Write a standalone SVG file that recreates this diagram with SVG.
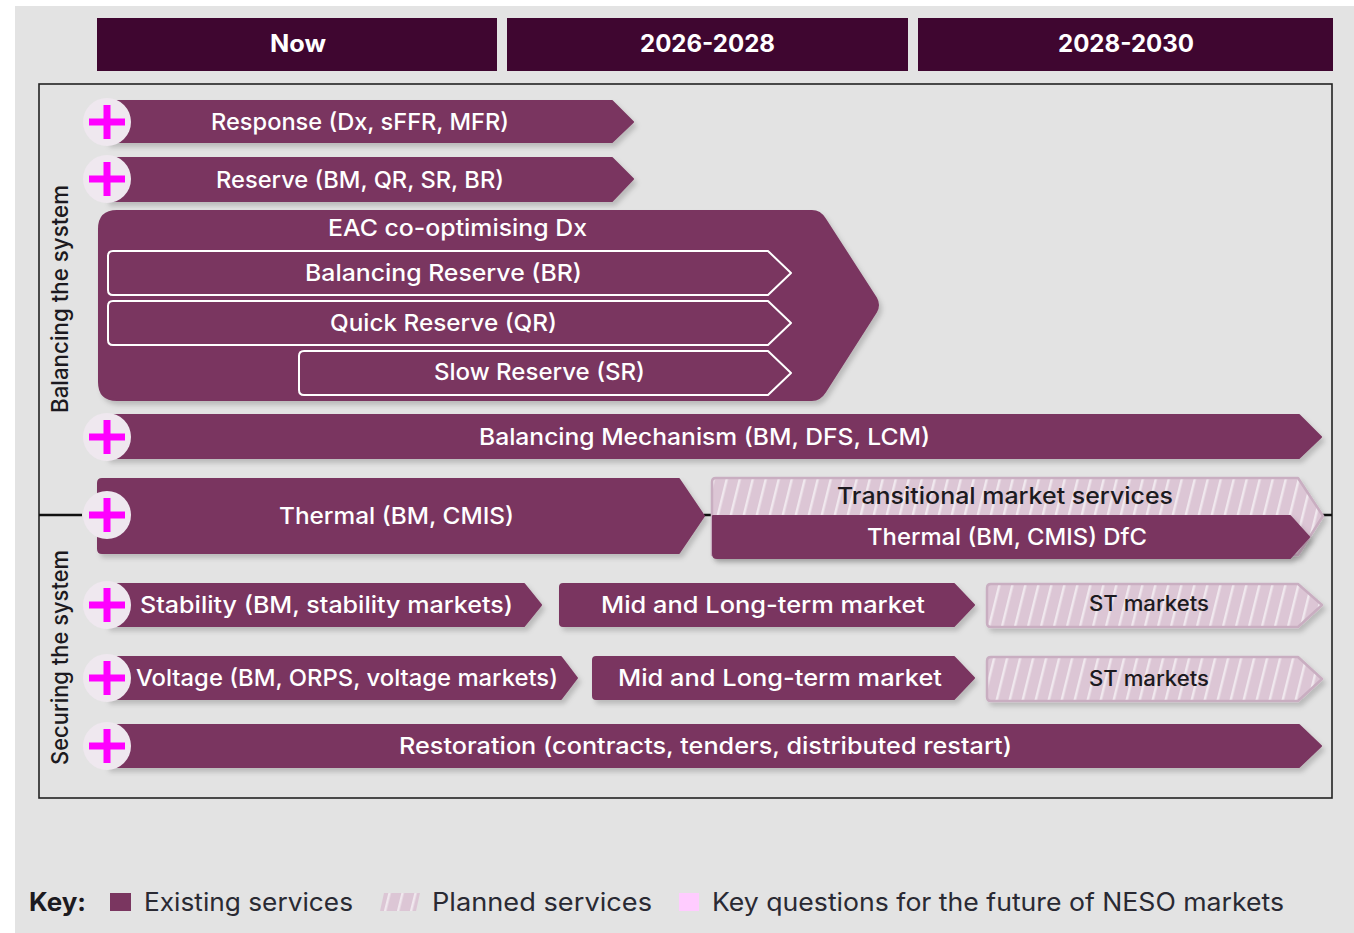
<svg xmlns="http://www.w3.org/2000/svg" width="1354" height="933" viewBox="0 0 1354 933">
<style>
text{font-family:"Inter","Liberation Sans",sans-serif;font-size:23px;font-weight:500}
.w{fill:#fff}.d{fill:#1c1a20}
.h{font-weight:700;font-size:24px;fill:#fff}
.side{fill:#1c1a20;font-size:23px}
.key{fill:#2a2a33;font-weight:400;font-size:25px}
.bar{fill:#7a3660;stroke:#7a3660;stroke-width:2;stroke-linejoin:round;filter:url(#sh)}
.plan{fill:url(#hatch);stroke:#c9aec1;stroke-width:2.5;stroke-linejoin:round;filter:url(#sh)}
.inner{fill:#7a3660;stroke:#fff;stroke-width:2;stroke-linejoin:round}
.hd{fill:#3f0630}
.circ{fill:#efe8ef}
.plus{fill:#ff00ff}
</style>
<defs>
<filter id="sh" x="-5%" y="-20%" width="110%" height="145%"><feDropShadow dx="3" dy="4" stdDeviation="2.5" flood-color="#000" flood-opacity="0.18"/></filter>
<pattern id="hatch" width="13" height="40" patternUnits="userSpaceOnUse" patternTransform="skewX(-14)"><rect width="13" height="40" fill="#dcc6d5"/><rect x="0" width="2.5" height="40" fill="#f0e8ee"/></pattern>
<g id="plusmark"><circle class="circ" r="24"/><rect class="plus" x="-18" y="-3.5" width="36" height="7"/><rect class="plus" x="-3.5" y="-17" width="7" height="34"/></g>
</defs>
<rect width="1354" height="933" fill="#fff"/>
<rect x="15" y="6" width="1339" height="927" fill="#e3e3e3"/>
<g id="headers">
<g id="h-now"><rect class="hd" x="97" y="18" width="400" height="53"/><text class="h" x="270" y="52" textLength="56" lengthAdjust="spacingAndGlyphs">Now</text></g>
<g id="h-2026"><rect class="hd" x="507" y="18" width="401" height="53"/><text class="h" x="640" y="52" textLength="135" lengthAdjust="spacingAndGlyphs">2026-2028</text></g>
<g id="h-2028"><rect class="hd" x="918" y="18" width="415" height="53"/><text class="h" x="1058" y="52" textLength="136" lengthAdjust="spacingAndGlyphs">2028-2030</text></g>
</g>
<g id="connectors" fill="none" stroke="#111">
<rect x="39" y="84" width="1293" height="714" stroke="#222" stroke-width="1.6"/>
<path d="M39 515H82M704 515H714M1322 515H1332" stroke-width="2.4"/>
</g>
<text class="side" transform="translate(68,413) rotate(-90)" textLength="228" lengthAdjust="spacingAndGlyphs">Balancing the system</text>
<text class="side" transform="translate(68,765) rotate(-90)" textLength="215" lengthAdjust="spacingAndGlyphs">Securing the system</text>

<g id="response"><path class="bar" d="M107 101H612L633 122L612 142H107Z"/><use href="#plusmark" x="107" y="122"/><text class="w" x="211" y="130" textLength="298" lengthAdjust="spacingAndGlyphs">Response (Dx, sFFR, MFR)</text></g>
<g id="reserve"><path class="bar" d="M107 158H612L633 179L612 201H107Z"/><use href="#plusmark" x="107" y="179"/><text class="w" x="216" y="188" textLength="288" lengthAdjust="spacingAndGlyphs">Reserve (BM, QR, SR, BR)</text></g>

<g id="eac"><path class="bar" d="M117 211H812Q820 211 825 219L876 298Q880 305 876 312L825 392Q820 400 812 400H117Q99 400 99 382V229Q99 211 117 211Z"/><text class="w" x="328" y="236" textLength="259" lengthAdjust="spacingAndGlyphs">EAC co-optimising Dx</text></g>
<g id="br"><path class="inner" d="M113 251H768L791 273L768 295H113Q108 295 108 290V256Q108 251 113 251Z"/><text class="w" x="305" y="281" textLength="277" lengthAdjust="spacingAndGlyphs">Balancing Reserve (BR)</text></g>
<g id="qr"><path class="inner" d="M113 301H768L791 323L768 345H113Q108 345 108 340V306Q108 301 113 301Z"/><text class="w" x="330" y="331" textLength="227" lengthAdjust="spacingAndGlyphs">Quick Reserve (QR)</text></g>
<g id="sr"><path class="inner" d="M304 351H768L791 373L768 395H304Q299 395 299 390V356Q299 351 304 351Z"/><text class="w" x="434" y="380" textLength="211" lengthAdjust="spacingAndGlyphs">Slow Reserve (SR)</text></g>

<g id="bm"><path class="bar" d="M107 415H1299L1321 437L1299 458H107Z"/><use href="#plusmark" x="107" y="437"/><text class="w" x="479" y="445" textLength="451" lengthAdjust="spacingAndGlyphs">Balancing Mechanism (BM, DFS, LCM)</text></g>

<g id="thermal"><path class="bar" d="M102 479H679L704 516L679 553H102Q98 553 98 549V483Q98 479 102 479Z"/><use href="#plusmark" x="107" y="515"/><text class="w" x="279" y="524" textLength="235" lengthAdjust="spacingAndGlyphs">Thermal (BM, CMIS)</text></g>
<g id="transitional"><path class="plan" d="M716 478H1298L1323 516L1298 555H712V482Q712 478 716 478Z"/><text class="d" x="837" y="504" textLength="336" lengthAdjust="spacingAndGlyphs">Transitional market services</text></g>
<g id="thermal-dfc"><path class="bar" d="M713 516H1290L1309 537L1290 558H717Q713 558 713 554Z"/><text class="w" x="867" y="545" textLength="280" lengthAdjust="spacingAndGlyphs">Thermal (BM, CMIS) DfC</text></g>

<g id="stability"><path class="bar" d="M107 584H524L541 605L524 626H107Z"/><use href="#plusmark" x="107" y="605"/><text class="w" x="140" y="613" textLength="373" lengthAdjust="spacingAndGlyphs">Stability (BM, stability markets)</text></g>
<g id="stability-mid"><path class="bar" d="M563 584H954L974 605L954 626H563Q560 626 560 623V587Q560 584 563 584Z"/><text class="w" x="601" y="613" textLength="324" lengthAdjust="spacingAndGlyphs">Mid and Long-term market</text></g>
<g id="stability-st"><path class="plan" d="M991 584H1298L1322 605L1298 627H991Q987 627 987 623V588Q987 584 991 584Z"/><text class="d" x="1089" y="611" textLength="120" lengthAdjust="spacingAndGlyphs" style="font-size:21px">ST markets</text></g>

<g id="voltage"><path class="bar" d="M107 657H561L577 678L561 699H107Z"/><use href="#plusmark" x="107" y="678"/><text class="w" x="136" y="686" textLength="422" lengthAdjust="spacingAndGlyphs">Voltage (BM, ORPS, voltage markets)</text></g>
<g id="voltage-mid"><path class="bar" d="M596 657H954L974 678L954 699H596Q593 699 593 696V660Q593 657 596 657Z"/><text class="w" x="618" y="686" textLength="324" lengthAdjust="spacingAndGlyphs">Mid and Long-term market</text></g>
<g id="voltage-st"><path class="plan" d="M991 657H1298L1322 679L1298 701H991Q987 701 987 697V661Q987 657 991 657Z"/><text class="d" x="1089" y="686" textLength="120" lengthAdjust="spacingAndGlyphs" style="font-size:21px">ST markets</text></g>

<g id="restoration"><path class="bar" d="M107 725H1299L1321 746L1299 767H107Z"/><use href="#plusmark" x="107" y="746"/><text class="w" x="399" y="754" textLength="613" lengthAdjust="spacingAndGlyphs">Restoration (contracts, tenders, distributed restart)</text></g>

<g id="legend">
<text x="29" y="911" style="font-weight:700;font-size:25px;fill:#1c1a20" textLength="57" lengthAdjust="spacingAndGlyphs">Key:</text>
<rect x="110" y="893" width="21" height="18" fill="#7a3660"/>
<text class="key" x="144" y="911" textLength="209" lengthAdjust="spacingAndGlyphs">Existing services</text>
<path d="M384 893H420L416 911H380Z" fill="url(#hatch)"/>
<text class="key" x="432" y="911" textLength="220" lengthAdjust="spacingAndGlyphs">Planned services</text>
<rect x="679" y="893" width="20" height="18" fill="#ffccff"/>
<text class="key" x="712" y="911" textLength="572" lengthAdjust="spacingAndGlyphs">Key questions for the future of NESO markets</text>
</g>
</svg>
